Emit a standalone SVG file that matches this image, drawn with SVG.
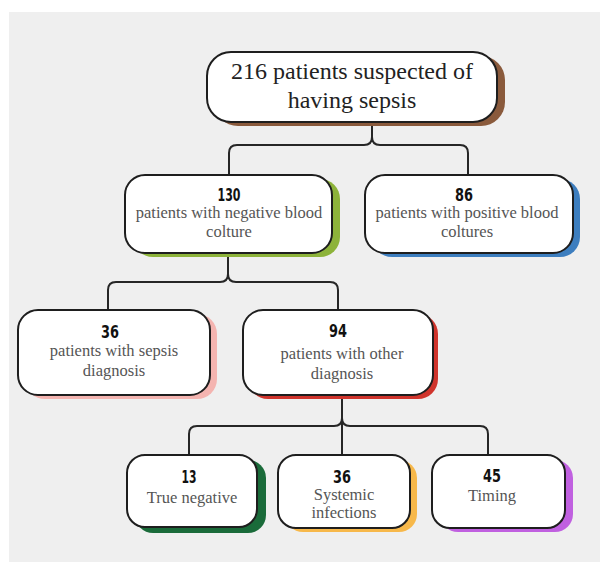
<svg xmlns="http://www.w3.org/2000/svg" width="608" height="572" viewBox="0 0 608 572">
<defs>
<style>
.box{fill:#fff;stroke:#1e1e1e;stroke-width:2}
.conn{fill:none;stroke:#262626;stroke-width:2}
.num{font-family:"DejaVu Sans",sans-serif;font-weight:bold;font-size:18px;fill:#111;text-anchor:middle}
.lbl{font-family:"Liberation Serif","DejaVu Serif",serif;font-size:16.5px;fill:#555;text-anchor:middle}
.top{font-family:"Liberation Serif","DejaVu Serif",serif;font-size:24px;fill:#222;text-anchor:middle}
</style>
</defs>
<rect x="0" y="0" width="608" height="572" fill="#fff"/>
<rect x="9" y="12" width="591" height="550" fill="#efefef"/>
<g id="connectors">
<path class="conn" d="M372,122 V137 Q372,145 364,145 H237 Q229,145 229,153 V176 M372,137 Q372,145 380,145 H460 Q468,145 468,153 V176"/>
<path class="conn" d="M228,253 V274 Q228,282 220,282 H116 Q108,282 108,290 V310 M228,274 Q228,282 236,282 H330 Q338,282 338,290 V310"/>
<path class="conn" d="M342,395 V455 M342,418 Q342,426 334,426 H197 Q189,426 189,434 V455 M342,418 Q342,426 350,426 H480 Q488,426 488,434 V455"/>
</g>
<g id="n216">
<rect x="214" y="56" width="291" height="70" rx="24" fill="#8a5a3c"/>
<rect class="box" x="207" y="52" width="290" height="70" rx="24"/>
<text class="top" x="352" y="79">216 patients suspected of</text>
<text class="top" x="352" y="108">having sepsis</text>
</g>
<g id="n130">
<rect x="133" y="179" width="207" height="78" rx="20" fill="#8db33a"/>
<rect class="box" x="125" y="175" width="207" height="78" rx="20"/>
<text class="num" x="229" y="201" textLength="23" lengthAdjust="spacingAndGlyphs">130</text>
<text class="lbl" x="229" y="218">patients with negative blood</text>
<text class="lbl" x="229" y="237">colture</text>
</g>
<g id="n86">
<rect x="372" y="179" width="208" height="78" rx="20" fill="#3d7ebf"/>
<rect class="box" x="365" y="175" width="208" height="78" rx="20"/>
<text class="num" x="464" y="201" textLength="18" lengthAdjust="spacingAndGlyphs">86</text>
<text class="lbl" x="467" y="218">patients with positive blood</text>
<text class="lbl" x="467" y="237">coltures</text>
</g>
<g id="n36a">
<rect x="25" y="314" width="192" height="85" rx="20" fill="#f4b4b0"/>
<rect class="box" x="18" y="310" width="192" height="85" rx="20"/>
<text class="num" x="110" y="338" textLength="18" lengthAdjust="spacingAndGlyphs">36</text>
<text class="lbl" x="114" y="356">patients with sepsis</text>
<text class="lbl" x="114" y="376">diagnosis</text>
</g>
<g id="n94">
<rect x="248" y="314" width="190" height="85" rx="20" fill="#d0342c"/>
<rect class="box" x="243" y="310" width="190" height="85" rx="20"/>
<text class="num" x="338" y="337" textLength="18" lengthAdjust="spacingAndGlyphs">94</text>
<text class="lbl" x="342" y="359">patients with other</text>
<text class="lbl" x="342" y="379">diagnosis</text>
</g>
<g id="n13">
<rect x="135" y="460" width="131" height="73" rx="18" fill="#1a6b3a"/>
<rect class="box" x="127" y="455" width="130" height="72" rx="18"/>
<text class="num" x="189" y="483" textLength="15" lengthAdjust="spacingAndGlyphs">13</text>
<text class="lbl" x="192" y="503">True negative</text>
</g>
<g id="n36b">
<rect x="285" y="460" width="132" height="72" rx="18" fill="#f7b84a"/>
<rect class="box" x="278" y="455" width="132" height="73" rx="18"/>
<text class="num" x="342" y="483" textLength="18" lengthAdjust="spacingAndGlyphs">36</text>
<text class="lbl" x="344" y="500">Systemic</text>
<text class="lbl" x="344" y="518">infections</text>
</g>
<g id="n45">
<rect x="440" y="460" width="133" height="72" rx="18" fill="#c060e0"/>
<rect class="box" x="432" y="455" width="133" height="73" rx="18"/>
<text class="num" x="492" y="482" textLength="18" lengthAdjust="spacingAndGlyphs">45</text>
<text class="lbl" x="492" y="501">Timing</text>
</g>
</svg>
